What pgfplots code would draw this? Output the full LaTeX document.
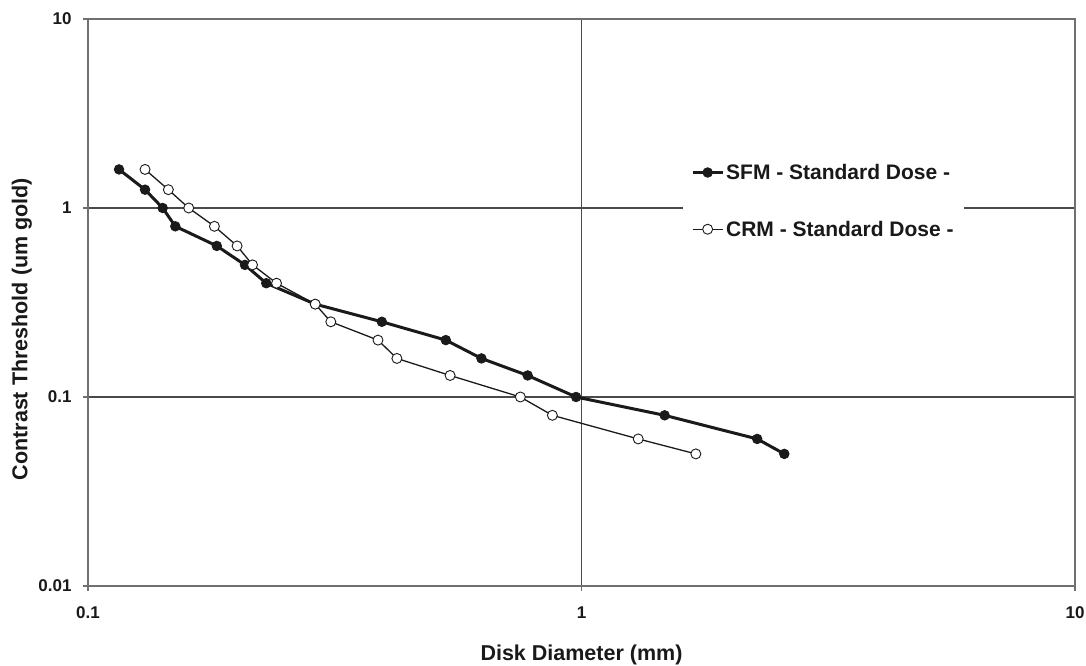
\documentclass[border=0pt]{standalone}
\usepackage{pgfplots}
\pgfplotsset{compat=1.18}
\usepackage{pgfplotstable}
\usepackage{fontspec}
\setmainfont{Liberation Sans}
\definecolor{gridc}{HTML}{4A4A4A}
\definecolor{boxc}{HTML}{707070}
\definecolor{linec}{HTML}{1A1A1A}

\pgfplotstableread{
x y
0.1156 1.6
0.1305 1.25
0.1417 1.0
0.1503 0.8
0.1824 0.63
0.208 0.5
0.2297 0.4
0.2887 0.31
0.394 0.25
0.531 0.2
0.627 0.16
0.778 0.13
0.975 0.1
1.474 0.08
2.27 0.06
2.576 0.05
}\sfm

\pgfplotstableread{
x y
0.1305 1.6
0.1455 1.25
0.160 1.0
0.1804 0.8
0.2005 0.63
0.2155 0.5
0.241 0.4
0.2887 0.31
0.3105 0.25
0.387 0.2
0.4226 0.16
0.5417 0.13
0.752 0.1
0.873 0.08
1.303 0.06
1.705 0.05
}\crm

\begin{document}
\begin{tikzpicture}[x=1pt,y=1pt]
\useasboundingbox (0,0) rectangle (1086,666);
\begin{axis}[
  at={(88pt,80pt)}, anchor=south west,
  width=987pt, height=567pt, scale only axis,
  xmode=log, ymode=log,
  xmin=0.1, xmax=10, ymin=0.01, ymax=10,
  xtick={0.1,1,10}, xticklabels={0.1,1,10},
  ytick={0.01,0.1,1,10}, yticklabels={0.01,0.1,1,10},
  minor tick length=0pt,
  tick align=outside, major tick length=5pt,
  xtick pos=bottom, ytick pos=left,
  major grid style={color=gridc, line width=1.2pt},
  grid=major,
  axis line style={color=boxc, line width=1.5pt},
  tick style={color=boxc, line width=1.2pt},
  /pgf/number format/assume math mode=true,
  tick label style={font=\fontsize{17}{20}\selectfont\bfseries, text=black!90},
  xticklabel style={yshift=-12pt},
  yticklabel style={xshift=-8pt},
  xlabel={Disk Diameter (mm)},
  ylabel={Contrast Threshold (um gold)},
  label style={font=\fontsize{21.5}{24}\selectfont\bfseries, text=black!90},
  xlabel style={at={(axis description cs:0.5,-0.1217)}, anchor=center},
  ylabel style={at={(axis description cs:-0.0669,0.453)}, anchor=center},
  legend cell align=left,
  legend style={at={(axis description cs:0.6028,0.762)}, anchor=north west,
    draw=none, fill=white, inner xsep=8pt, inner ysep=8pt,
    font=\fontsize{21}{24}\selectfont\bfseries, text=black!90,
    row sep=36pt},
  legend image code/.code={%
    \draw[mark repeat=2,mark phase=2,#1] plot coordinates {(0pt,0pt) (15pt,0pt) (30pt,0pt)};},
]
\addplot[color=linec, line width=3pt, mark=*, mark size=4.8pt,
  mark options={fill=linec, draw=linec, line width=0.8pt}] table[x=x,y=y] {\sfm};
\addlegendentry{SFM - Standard Dose -}
\addplot[color=linec, line width=1.3pt, mark=*, mark size=5pt,
  mark options={fill=white, draw=linec, line width=0.9pt}] table[x=x,y=y] {\crm};
\addlegendentry{CRM - Standard Dose -}
\end{axis}
\end{tikzpicture}
\end{document}
